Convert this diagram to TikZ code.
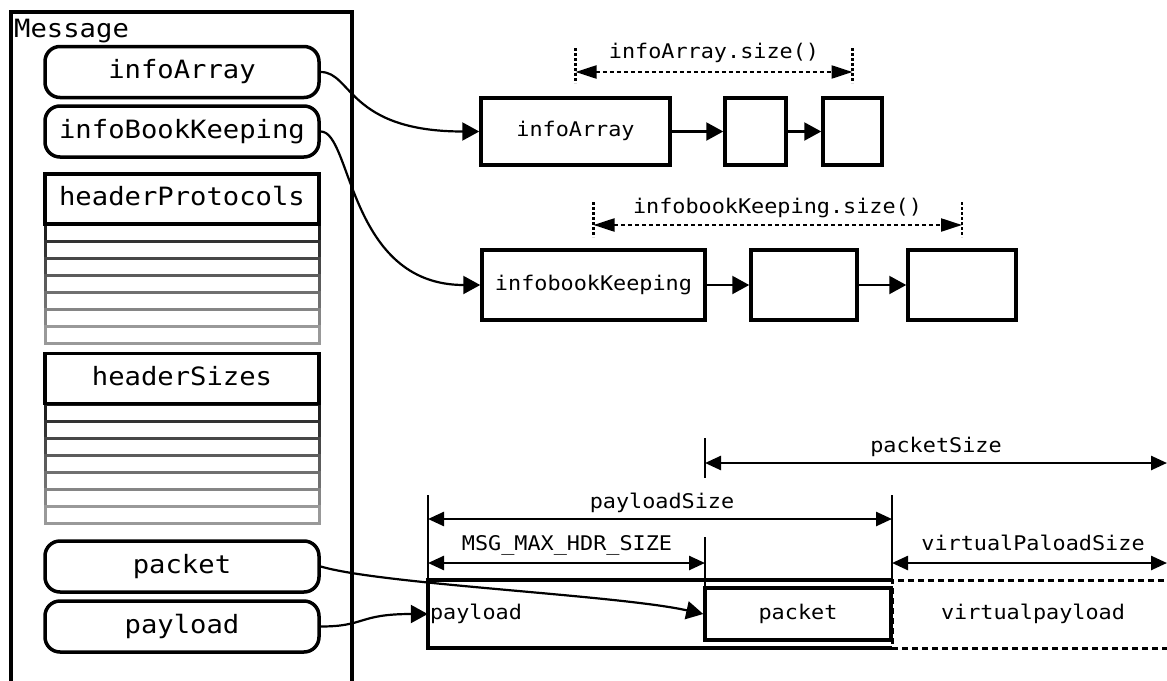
\documentclass[tikz,border=0pt]{standalone}
\usepackage{fontspec}
\usetikzlibrary{arrows.meta}
\newfontfamily\diagmono[FakeStretch=1.08]{DejaVu Sans Mono}
\tikzset{
  bigfont/.style={font=\diagmono\fontsize{25.2}{28}\selectfont, text height=18pt, text depth=5pt},
  smallfont/.style={font=\diagmono\fontsize{20.2}{24}\selectfont, text height=14.5pt, text depth=4pt},
  field/.style={bigfont, draw, line width=3.5pt, rounded corners=15pt,
    minimum width=274pt, minimum height=51pt, inner sep=0pt},
  header/.style={bigfont, draw, line width=3.5pt, minimum width=274pt,
    minimum height=50pt, inner sep=0pt},
  cell/.style={smallfont, draw, line width=3.5pt, inner sep=0pt},
  conn/.style={line width=2.2pt, -{Triangle[length=17pt,width=18pt]}},
  dimline/.style={line width=2.5pt,
    {Triangle[length=16pt,width=14pt]}-{Triangle[length=16pt,width=14pt]}},
  dimdash/.style={line width=2.2pt, dash pattern=on 4pt off 3pt,
    {Triangle[length=21pt,width=13pt]}-{Triangle[length=21pt,width=13pt]}},
  tick/.style={line width=2.2pt},
  dashtick/.style={line width=2.2pt, dash pattern=on 3pt off 2pt},
  dimlabel/.style={smallfont, anchor=base, inner sep=0pt},
  rowline/.style={line width=3pt},
}
\begin{document}
\begin{tikzpicture}[x=1pt,y=-1pt]
\useasboundingbox (0,0) rectangle (1167,680);

% --- Message container ---
\draw[line width=3.5pt] (11,690) -- (11,12) -- (352,12) -- (352,690);
\node[bigfont, anchor=base west, inner sep=0pt] (msg) at (14,37) {Message};

\node[field] (fA) at (182,72) {infoArray};
\node[field] (fB) at (182,131.5) {infoBookKeeping};

% header table rows fading out
\foreach \i in {0,...,6}{
  \pgfmathsetmacro\shade{88-8*\i}
  \draw[rowline, draw=black!\shade] (45,{224+17.14*\i}) rectangle ++(274,17.14);
}
\node[header] (hP) at (182,199) {headerProtocols};

\foreach \i in {0,...,6}{
  \pgfmathsetmacro\shade{88-8*\i}
  \draw[rowline, draw=black!\shade] (45,{404+17.14*\i}) rectangle ++(274,17.14);
}
\node[header] (hS) at (182,378.5) {headerSizes};

\node[field] (fP) at (182,566.5) {packet};
\node[field] (fL) at (182,626.5) {payload};

% --- info arrays ---
\node[cell, minimum width=189pt, minimum height=67pt] (aA) at (575.5,131.5) {infoArray};
\node[cell, minimum width=61pt, minimum height=67pt] (aB) at (755.5,131.5) {};
\node[cell, minimum width=59pt, minimum height=67pt] (aC) at (852.5,131.5) {};
\draw[conn] (aA.east) -- (aB.west);
\draw[conn] (aB.east) -- (aC.west);

\node[cell, minimum width=223pt, minimum height=70pt] (bA) at (593.5,285) {infobookKeeping};
\node[cell, minimum width=106pt, minimum height=70pt] (bB) at (804,285) {};
\node[cell, minimum width=108pt, minimum height=70pt] (bC) at (962,285) {};
\draw[conn] (bA.east) -- (bB.west);
\draw[conn] (bB.east) -- (bC.west);

% size annotations
\coordinate (aT1) at (575.5,48);  \coordinate (aB1) at (575.5,83);
\coordinate (aT2) at (852.5,48);  \coordinate (aB2) at (852.5,83);
\draw[dashtick] (aT1) -- (aB1);
\draw[dashtick] (aT2) -- (aB2);
\coordinate (aD1) at (575.5,72); \coordinate (aD2) at (852.5,72);
\draw[dimdash] (aD1) -- (aD2);
\node[dimlabel] (aSize) at (714,58) {infoArray.size()};

\coordinate (bT1) at (593.5,202); \coordinate (bB1) at (593.5,237);
\coordinate (bT2) at (962,202);   \coordinate (bB2) at (962,237);
\draw[dashtick] (bT1) -- (bB1);
\draw[dashtick] (bT2) -- (bB2);
\coordinate (bD1) at (593.5,225); \coordinate (bD2) at (962,225);
\draw[dimdash] (bD1) -- (bD2);
\node[dimlabel] (bSize) at (777.5,213) {infobookKeeping.size()};

% --- payload buffer ---
\node[minimum width=464pt, minimum height=68pt, inner sep=0pt] (pl) at (660,614) {};
\draw[line width=3.5pt] (pl.north east) -- (pl.north west) -- (pl.south west) -- (pl.south east);
\node[smallfont, anchor=west, inner sep=2pt] (plText) at (pl.west) {payload};
\node[cell, minimum width=186pt, minimum height=52pt] (pk) at (798,614) {packet};
\node[smallfont, draw, line width=3pt, dash pattern=on 6pt off 4pt,
  minimum width=282pt, minimum height=68pt, inner sep=0pt] (vp) at (1033,614) {virtualpayload};

% dimension lines
\coordinate (psT) at (705,438); \coordinate (psB) at (705,478);
\draw[tick] (psT) -- (psB);
\coordinate (psL) at (705,463); \coordinate (psR) at (1167,463);
\draw[dimline] (psL) -- (psR);
\node[dimlabel] (psText) at (936,452) {packetSize};

\coordinate (plT1) at (428,495); \coordinate (plB1) at (428,580);
\coordinate (plT2) at (892,495); \coordinate (plB2) at (892,580);
\draw[tick] (plT1) -- (plB1);
\draw[tick] (plT2) -- (plB2);
\coordinate (plL) at (428,519); \coordinate (plR) at (892,519);
\draw[dimline] (plL) -- (plR);
\node[dimlabel] (plSize) at (662,508) {payloadSize};

\coordinate (hdT) at (705,537); \coordinate (hdB) at (705,588);
\draw[tick] (hdT) -- (hdB);
\coordinate (hdL) at (428,563); \coordinate (hdR) at (705,563);
\draw[dimline] (hdL) -- (hdR);
\node[dimlabel] (hdText) at (567,550) {MSG\_MAX\_HDR\_SIZE};

\coordinate (vpL) at (892,563); \coordinate (vpR) at (1167,563);
\draw[dimline] (vpL) -- (vpR);
\node[dimlabel] (vpText) at (1033,550) {virtualPaloadSize};

% --- pointers out of the message ---
\draw[conn] (fA.east) .. controls +(31,0) and +(-131,0) .. (aA.west);
\draw[conn] (fB.east) .. controls +(31,0) and +(-132,0) .. (bA.west);
\draw[conn] (fP.east) .. controls +(61,18) and +(-85,-19) .. (pk.west);
\draw[conn] (fL.east) .. controls +(45,0) and +(-70,0) .. (pl.west);
\end{tikzpicture}
\end{document}
